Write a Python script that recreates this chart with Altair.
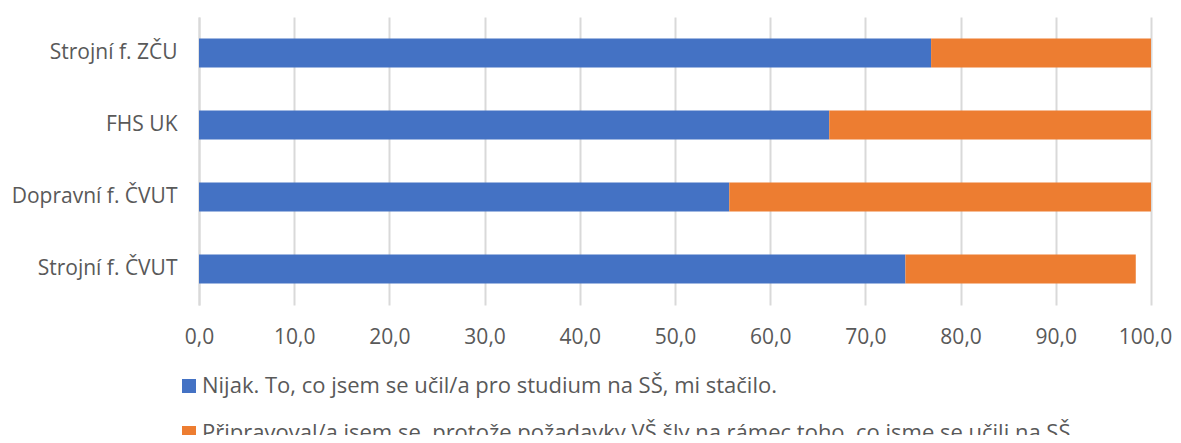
import altair as alt
import pandas as pd

categories = ["Strojní f. ZČU", "FHS UK", "Dopravní f. ČVUT", "Strojní f. ČVUT"]
series = [
    "Nijak. To, co jsem se učil/a pro studium na SŠ, mi stačilo.",
    "Připravoval/a jsem se, protože požadavky VŠ šly na rámec toho, co jsme se učili na SŠ",
]
nijak = [76.9, 66.2, 55.7, 74.2]
pripravoval = [23.1, 33.8, 44.3, 24.2]
colors = ["#4472C4", "#ED7D31"]

rows = []
for i, c in enumerate(categories):
    rows.append({"cat": c, "series": series[0], "value": nijak[i], "ord": 0})
    rows.append({"cat": c, "series": series[1], "value": pripravoval[i], "ord": 1})
df = pd.DataFrame(rows)

FONT = "Open Sans"

chart = alt.Chart(df).mark_bar().encode(
    y=alt.Y("cat:N", sort=categories, title=None,
            scale=alt.Scale(paddingInner=0.6, paddingOuter=0.3),
            axis=alt.Axis(labelFontSize=21, labelColor="#595959", labelFont=FONT,
                          labelPadding=22, ticks=False, domain=True,
                          domainColor="#d9d9d9", domainWidth=2, grid=False)),
    x=alt.X("value:Q", title=None, stack="zero",
            scale=alt.Scale(domain=[0, 100], nice=False),
            axis=alt.Axis(values=list(range(0, 101, 10)),
                          labelExpr="replace(format(datum.value, '.1f'), '.', ',')",
                          labelFontSize=21, labelColor="#595959", labelFont=FONT,
                          labelPadding=21, labelFlush=False, labelOverlap=False,
                          labelOffset={"condition": {"test": "datum.value == 100", "value": -6}, "value": 0},
                          ticks=False, domain=False,
                          grid=True, gridColor="#d9d9d9", gridWidth=2)),
    color=alt.Color("series:N", sort=series,
                    scale=alt.Scale(domain=series, range=colors),
                    legend=alt.Legend(title=None, orient="none", legendX=-21, legendY=358,
                                      direction="vertical", symbolType="square",
                                      symbolSize=196, symbolStrokeWidth=0,
                                      labelFontSize=22, labelColor="#595959", labelFont=FONT,
                                      labelLimit=1200, rowPadding=25, labelOffset=2)),
    order=alt.Order("ord:Q"),
).properties(
    width=952, height=288,
    autosize=alt.AutoSizeParams(type="none"),
    padding={"left": 191, "top": 9, "right": 22, "bottom": 130},
).configure_view(stroke=None)

chart.save("out.html", embed_options={"renderer": "svg", "actions": False})
